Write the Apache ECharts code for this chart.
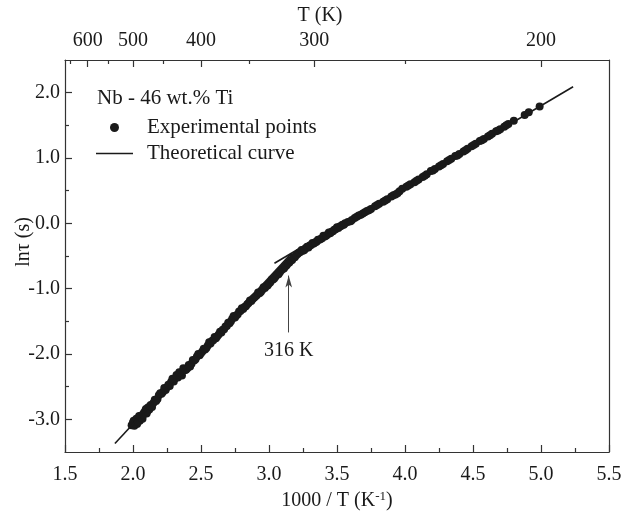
<!DOCTYPE html>
<html><head><meta charset="utf-8">
<script src="https://cdn.jsdelivr.net/npm/echarts@6/dist/echarts.min.js"></script>
<style>html,body{margin:0;padding:0;background:#fff}#c{width:624px;height:516px}</style>
</head><body><div id="c"></div>
<script>
// Experimental points: x = 1000/T (K^-1), y = ln tau (s)
const expX = [1.99,2.00,2.01,2.02,2.03,2.04,2.05,2.06,2.07,2.08,2.09,2.10,2.11,2.12,2.13,2.15,2.16,2.18,2.19,2.21,2.22,2.24,2.25,2.27,2.28,2.30,2.31,2.33,2.35,2.36,2.38,2.40,2.41,2.43,2.45,2.47,2.49,2.51,2.53,2.55,2.57,2.59,2.61,2.63,2.65,2.67,2.69,2.71,2.73,2.75,2.77,2.79,2.81,2.83,2.85,2.87,2.89,2.91,2.93,2.95,2.97,2.99,3.01,3.03,3.05,3.07,3.09,3.11,3.13,3.15,3.17,3.19,
  3.21,3.23,3.25,3.27,3.29,3.31,3.33,3.35,3.37,3.39,3.41,3.43,3.45,3.47,3.49,3.51,3.53,3.55,3.58,3.61,3.63,3.66,3.69,3.72,3.75,3.78,3.81,3.84,3.87,3.90,3.93,3.96,3.98,4.01,4.04,4.07,4.10,4.13,4.16,4.19,4.22,4.25,4.28,4.31,4.34,4.37,4.40,4.43,4.46,4.49,4.52,4.55,4.58,4.61,4.64,4.67,4.70,4.73,4.76,4.80,4.88,4.91,4.99,
  2.005,2.015,2.025,2.035,2.045,2.055,2.075,2.095,2.105,2.125,2.14,2.17,2.20,2.23,2.26,2.29,2.32,2.34,2.37,2.39,2.42,2.44,2.46,2.48,2.50,2.52,2.54,2.56,2.58,2.60,2.62,2.64,2.66,2.68,2.70,2.72,2.74,2.76,2.78,2.80,2.82,2.84,2.86,2.88,2.90,2.92,2.94,2.96,2.98,3.00,3.02,3.04,3.06,3.08,3.10,3.12,3.14,3.16,3.18,3.20,
  3.22,3.24,3.26,3.28,3.30,3.32,3.34,3.36,3.38,3.40,3.42,3.44,3.46,3.48,3.50,3.52,3.54,3.56,3.60,3.645,3.675,3.705,3.735,3.795,3.855,3.915,3.945,4.025,4.085,4.145,4.205,4.265,4.325,4.385,4.445,4.505,4.565,4.625,4.685,4.745];
const expY = [-3.09,-3.05,-3.10,-3.03,-3.07,-2.98,-3.02,-2.94,-2.99,-2.90,-2.87,-2.91,-2.82,-2.85,-2.78,-2.75,-2.70,-2.69,-2.63,-2.61,-2.58,-2.55,-2.51,-2.49,-2.43,-2.42,-2.37,-2.36,-2.29,-2.33,-2.25,-2.22,-2.17,-2.15,-2.10,-2.04,-2.02,-1.96,-1.93,-1.87,-1.84,-1.79,-1.76,-1.70,-1.67,-1.62,-1.57,-1.53,-1.46,-1.44,-1.39,-1.34,-1.31,-1.27,-1.22,-1.19,-1.14,-1.10,-1.07,-1.02,-0.99,-0.95,-0.90,-0.86,-0.81,-0.78,-0.72,-0.69,-0.64,-0.60,-0.56,-0.52,
  -0.47,-0.44,-0.42,-0.38,-0.37,-0.33,-0.31,-0.28,-0.25,-0.23,-0.20,-0.17,-0.15,-0.12,-0.09,-0.07,-0.04,-0.02,0.02,0.05,0.08,0.12,0.15,0.19,0.22,0.26,0.30,0.33,0.37,0.41,0.44,0.49,0.53,0.56,0.60,0.63,0.67,0.71,0.75,0.80,0.83,0.87,0.91,0.95,0.99,1.03,1.06,1.10,1.14,1.18,1.22,1.26,1.29,1.33,1.37,1.41,1.44,1.48,1.52,1.57,1.66,1.70,1.79,
  -3.02,-3.06,-2.99,-3.04,-2.95,-2.97,-2.93,-2.84,-2.88,-2.80,-2.81,-2.72,-2.60,-2.52,-2.47,-2.38,-2.32,-2.28,-2.22,-2.24,-2.19,-2.09,-2.08,-2.00,-1.99,-1.92,-1.91,-1.82,-1.80,-1.74,-1.73,-1.66,-1.63,-1.58,-1.52,-1.50,-1.42,-1.41,-1.35,-1.30,-1.28,-1.24,-1.18,-1.16,-1.12,-1.06,-1.05,-0.98,-0.96,-0.92,-0.86,-0.84,-0.78,-0.75,-0.70,-0.66,-0.61,-0.57,-0.52,-0.49,
  -0.45,-0.41,-0.41,-0.36,-0.34,-0.30,-0.29,-0.25,-0.24,-0.19,-0.19,-0.14,-0.13,-0.10,-0.06,-0.05,-0.02,0.00,0.03,0.10,0.13,0.17,0.20,0.28,0.35,0.43,0.46,0.58,0.65,0.73,0.81,0.89,0.97,1.04,1.12,1.20,1.27,1.35,1.42,1.50];
// Theoretical curve: two straight branches
const theoryLowX = [1.867, 3.165];
const theoryLowY = [-3.37, -0.46];
const theoryHighX = [3.04, 5.236];
const theoryHighY = [-0.61, 2.09];
// Axes
const xMin = 1.5, xMax = 5.5, xStep = 0.5;
const yMin = -3.5, yMax = 2.5;
const yMajor = [-3, -2, -1, 0, 1, 2];
const yMinor = [-2.5, -1.5, -0.5, 0.5, 1.5];
const topMajorT = [600, 500, 400, 300, 200];
const topMinorT = [650, 550, 450, 350, 250];
// Annotation
const annotText = '316 K';
const annotX = 3.145, annotYFrom = -1.67, annotYTo = -0.80;

const FONT = 'Liberation Serif';
const INK = '#1a1a1a';
const AX = {color: '#333', width: 1.2};

const chart = echarts.init(document.getElementById('c'), null, {renderer: 'canvas'});
const pts = expX.map((x, i) => [x, expY[i]]);
const low = theoryLowX.map((x, i) => [x, theoryLowY[i]]);
const high = theoryHighX.map((x, i) => [x, theoryHighY[i]]);

chart.setOption({
  animation: false,
  backgroundColor: '#fff',
  textStyle: {fontFamily: FONT, color: INK},
  grid: {left: 65, right: 15, top: 60, bottom: 64, containLabel: false, outerBoundsMode: 'none'},
  title: {text: 'Nb - 46 wt.% Ti', left: 97, top: 88, padding: 0,
    textStyle: {fontFamily: FONT, fontSize: 21, fontWeight: 'normal', color: INK}},
  legend: {
    orient: 'vertical', left: 91, top: 111, itemGap: 3,
    itemWidth: 37, itemHeight: 9, symbolKeepAspect: true,
    data: [
      {name: 'Experimental points', icon: 'circle'},
      {name: 'Theoretical curve', icon: 'path://M0,0H100V4H0Z'}
    ],
    textStyle: {fontFamily: FONT, fontSize: 21, color: INK, lineHeight: 23, padding: [0, 0, 0, 9]}
  },
  xAxis: [
    {type: 'value', position: 'bottom', min: xMin, max: xMax, interval: xStep,
     axisLine: {show: true, onZero: false, lineStyle: AX},
     axisTick: {inside: true, length: 7, lineStyle: AX},
     minorTick: {show: true, splitNumber: 2, length: 4, lineStyle: AX},
     splitLine: {show: false},
     axisLabel: {formatter: v => v.toFixed(1), margin: 13, fontFamily: FONT, fontSize: 20, color: INK},
     name: '1000 / T (K{sup|-1})', nameLocation: 'middle', nameGap: 38,
     nameTextStyle: {fontFamily: FONT, fontSize: 20, color: INK, lineHeight: 22,
       rich: {sup: {fontFamily: FONT, fontSize: 13, verticalAlign: 'top', color: INK}}}},
    {type: 'value', position: 'top', min: xMin, max: xMax,
     axisLine: {show: true, onZero: false, lineStyle: AX},
     axisTick: {inside: true, length: 7, lineStyle: AX, customValues: topMajorT.map(t => 1000 / t)},
     axisLabel: {customValues: topMajorT.map(t => 1000 / t), formatter: v => String(Math.round(1000 / v)),
       margin: 9, fontFamily: FONT, fontSize: 20, color: INK},
     splitLine: {show: false},
     name: 'T (K)', nameLocation: 'middle', nameGap: 34,
     nameTextStyle: {fontFamily: FONT, fontSize: 20, color: INK, padding: [0, 34, 0, 0]}},
    {type: 'value', position: 'top', min: xMin, max: xMax,
     axisLine: {show: false, onZero: false},
     axisTick: {inside: true, length: 4, lineStyle: AX, customValues: topMinorT.map(t => 1000 / t)},
     axisLabel: {show: false}, splitLine: {show: false}}
  ],
  yAxis: [
    {type: 'value', position: 'left', min: yMin, max: yMax,
     axisLine: {show: true, onZero: false, lineStyle: AX},
     axisTick: {inside: true, length: 7, lineStyle: AX, customValues: yMajor},
     axisLabel: {customValues: yMajor, formatter: v => v.toFixed(1), margin: 5,
       fontFamily: FONT, fontSize: 20, color: INK},
     splitLine: {show: false},
     name: 'lnτ (s)', nameLocation: 'middle', nameGap: 31, nameRotate: 90, nameMoveOverlap: false,
     nameTextStyle: {fontFamily: FONT, fontSize: 20, color: INK, padding: [0, 0, 0, 28]}},
    {type: 'value', position: 'left', min: yMin, max: yMax,
     axisLine: {show: false, onZero: false},
     axisTick: {inside: true, length: 4, lineStyle: AX, customValues: yMinor},
     axisLabel: {show: false}, splitLine: {show: false}},
    {type: 'value', position: 'right', min: yMin, max: yMax,
     axisLine: {show: true, onZero: false, lineStyle: AX},
     axisTick: {show: false}, axisLabel: {show: false}, splitLine: {show: false}}
  ],
  series: [
    {name: 'Experimental points', type: 'scatter', data: pts, symbol: 'circle', symbolSize: 8,
     itemStyle: {color: INK, opacity: 1}, xAxisIndex: 0, yAxisIndex: 0, z: 3},
    {name: 'Theoretical curve', type: 'line', data: low, symbol: 'none', showSymbol: false,
     lineStyle: {color: INK, width: 1.6}, itemStyle: {color: INK}, xAxisIndex: 0, yAxisIndex: 0, z: 4,
     markLine: {
       silent: true, animation: false,
       lineStyle: {color: '#444', width: 1, type: 'solid'},
       label: {show: true, position: 'start', formatter: annotText, distance: 8,
         fontFamily: FONT, fontSize: 20, color: INK},
       data: [[
         {coord: [annotX, annotYFrom], symbol: 'none'},
         {coord: [annotX, annotYTo], symbol: 'arrow', symbolSize: [5, 12]}
       ]]
     }},
    {name: 'Theoretical curve', type: 'line', data: high, symbol: 'none', showSymbol: false,
     lineStyle: {color: INK, width: 1.6}, itemStyle: {color: INK}, xAxisIndex: 0, yAxisIndex: 0, z: 4}
  ]
});
</script></body></html>
